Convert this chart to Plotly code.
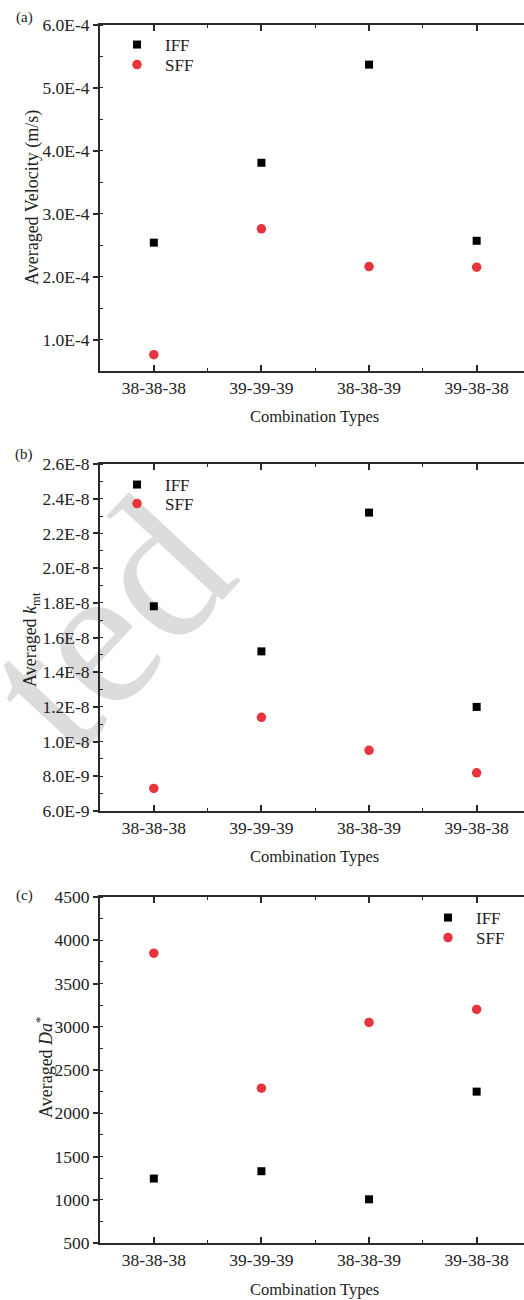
import plotly.graph_objects as go

# ---------------- data ----------------
categories = ["38-38-38", "39-39-39", "38-38-39", "39-38-38"]

velocity_iff = [2.54e-4, 3.81e-4, 5.37e-4, 2.57e-4]
velocity_sff = [0.76e-4, 2.76e-4, 2.16e-4, 2.15e-4]

kmt_iff = [1.78e-8, 1.52e-8, 2.32e-8, 1.20e-8]
kmt_sff = [7.3e-9, 1.14e-8, 9.5e-9, 8.2e-9]

da_iff = [1245, 1330, 1005, 2250]
da_sff = [3850, 2290, 3050, 3200]

vel_tickvals = [1e-4, 2e-4, 3e-4, 4e-4, 5e-4, 6e-4]
vel_ticktext = ["1.0E-4", "2.0E-4", "3.0E-4", "4.0E-4", "5.0E-4", "6.0E-4"]
kmt_tickvals = [6e-9, 8e-9, 1.0e-8, 1.2e-8, 1.4e-8, 1.6e-8, 1.8e-8, 2.0e-8, 2.2e-8, 2.4e-8, 2.6e-8]
kmt_ticktext = ["6.0E-9", "8.0E-9", "1.0E-8", "1.2E-8", "1.4E-8", "1.6E-8", "1.8E-8",
                "2.0E-8", "2.2E-8", "2.4E-8", "2.6E-8"]
da_tickvals = [500, 1000, 1500, 2000, 2500, 3000, 3500, 4000, 4500]
da_ticktext = [str(v) for v in da_tickvals]

# ---------------- styling ----------------
W, H = 524, 1300
FONT = "Liberation Serif"
AX = "#2a2a2a"
RED = "#E8353D"
idx = list(range(len(categories)))

def py(px):
    return 1 - px / H

panels = [(25, 371), (464, 811), (897, 1243)]  # (top px, bottom px)

fig = go.Figure()

series = [
    (velocity_iff, velocity_sff, "legend", "legend2"),
    (kmt_iff, kmt_sff, "legend3", "legend4"),
    (da_iff, da_sff, "legend5", "legend6"),
]
for i, (iff, sff, lg1, lg2) in enumerate(series):
    xa = "x" if i == 0 else f"x{i+1}"
    ya = "y" if i == 0 else f"y{i+1}"
    fig.add_trace(go.Scatter(x=idx, y=iff, mode="markers", name="IFF", xaxis=xa, yaxis=ya,
                             legend=lg1,
                             marker=dict(symbol="square", size=8, color="black")))
    fig.add_trace(go.Scatter(x=idx, y=sff, mode="markers", name="SFF", xaxis=xa, yaxis=ya,
                             legend=lg2,
                             marker=dict(symbol="circle", size=9.5, color=RED)))

xdom = [100 / W, 1.0]
xrange_ = [-0.5, 3.44]

def xaxis_cfg(anchor):
    return dict(
        domain=xdom, anchor=anchor, range=xrange_,
        tickmode="array", tickvals=idx, ticktext=categories,
        ticks="inside", ticklen=6, tickwidth=1.5, tickcolor=AX,
        showline=True, linecolor=AX, linewidth=1.8, mirror="ticks",
        showgrid=False, zeroline=False, automargin=False,
        tickfont=dict(family=FONT, size=17.5, color="#222"),
        minor=dict(tickmode="array", tickvals=[0.5, 1.5, 2.5], ticks="inside",
                   ticklen=3, tickwidth=1.2, tickcolor=AX, showgrid=False),
    )

def yaxis_cfg(anchor, dom, rng, tv, tt, mdt):
    return dict(
        domain=dom, anchor=anchor, range=rng,
        tickmode="array", tickvals=tv, ticktext=tt,
        ticks="outside", ticklen=5, tickwidth=1.5, tickcolor=AX,
        showline=True, linecolor=AX, linewidth=1.8,
        showgrid=False, zeroline=False, automargin=False,
        tickfont=dict(family=FONT, size=17.5, color="#222"),
        minor=dict(tickmode="linear", tick0=0, dtick=mdt, ticks="inside",
                   ticklen=3, tickwidth=1.2, tickcolor=AX, showgrid=False),
    )

doms = [[py(b), py(t)] for t, b in panels]

fig.update_layout(
    xaxis=xaxis_cfg("y"),
    xaxis2=xaxis_cfg("y2"),
    xaxis3=xaxis_cfg("y3"),
    yaxis=yaxis_cfg("x", doms[0], [0.5e-4, 6e-4], vel_tickvals, vel_ticktext, 0.5e-4),
    yaxis2=yaxis_cfg("x2", doms[1], [6e-9, 2.6e-8], kmt_tickvals, kmt_ticktext, 1e-9),
    yaxis3=yaxis_cfg("x3", doms[2], [500, 4500], da_tickvals, da_ticktext, 250),
)

leg_common = dict(font=dict(family=FONT, size=17, color="#222"), bgcolor="rgba(0,0,0,0)",
                  borderwidth=0, xanchor="left", yanchor="top", tracegroupgap=0,
                  itemwidth=46)
LOFF = 18  # legend top to item centre
fig.update_layout(
    legend=dict(x=109 / W, y=py(45 - LOFF), **leg_common),
    legend2=dict(x=109 / W, y=py(65 - LOFF), **leg_common),
    legend3=dict(x=109 / W, y=py(485 - LOFF), **leg_common),
    legend4=dict(x=109 / W, y=py(504 - LOFF), **leg_common),
    legend5=dict(x=420 / W, y=py(918 - LOFF), **leg_common),
    legend6=dict(x=420 / W, y=py(938 - LOFF), **leg_common),
)

ann = []
title_font = dict(family=FONT, size=16.5, color="#222")
ytitle_font = dict(family=FONT, size=18, color="#222")
for (t, b) in panels:
    ann.append(dict(text="Combination Types", x=314 / W, y=py(b + 46), xref="paper", yref="paper",
                    showarrow=False, font=title_font, xanchor="center", yanchor="middle"))
ann.append(dict(text="Averaged Velocity (m/s)", x=33 / W, y=py(198), xref="paper", yref="paper",
                showarrow=False, font=ytitle_font, textangle=-90, xanchor="center", yanchor="middle"))
ann.append(dict(text="Averaged <i>k</i><sub>mt</sub>", x=31 / W, y=py(640), xref="paper", yref="paper",
                showarrow=False, font=ytitle_font, textangle=-90, xanchor="center", yanchor="middle"))
ann.append(dict(text="Averaged <i>Da</i><sup>*</sup>", x=44 / W, y=py(1068), xref="paper", yref="paper",
                showarrow=False, font=ytitle_font, textangle=-90, xanchor="center", yanchor="middle"))
for lab, yy in [("(a)", 18), ("(b)", 455), ("(c)", 895)]:
    ann.append(dict(text=lab, x=24 / W, y=py(yy), xref="paper", yref="paper",
                    showarrow=False, font=dict(family=FONT, size=15, color="#222"),
                    xanchor="center", yanchor="middle"))

fig.update_layout(annotations=ann)

# watermark (light grey, behind the data)
fig.add_shape(type="rect", xref="paper", yref="paper",
              x0=0, x1=180 / W, y0=py(748), y1=py(468),
              line=dict(width=0), fillcolor="rgba(0,0,0,0)", layer="below",
              label=dict(text="ted", textangle=-47, textposition="middle center",
                         font=dict(family="Liberation Serif", size=205, color="#dcdcdc")))

fig.update_layout(
    width=W, height=H,
    margin=dict(l=0, r=0, t=0, b=0),
    paper_bgcolor="white", plot_bgcolor="rgba(0,0,0,0)",
    showlegend=True,
)

fig.write_html("out.html", config={"displayModeBar": False},
               post_script="document.body.style.margin='0px';")
